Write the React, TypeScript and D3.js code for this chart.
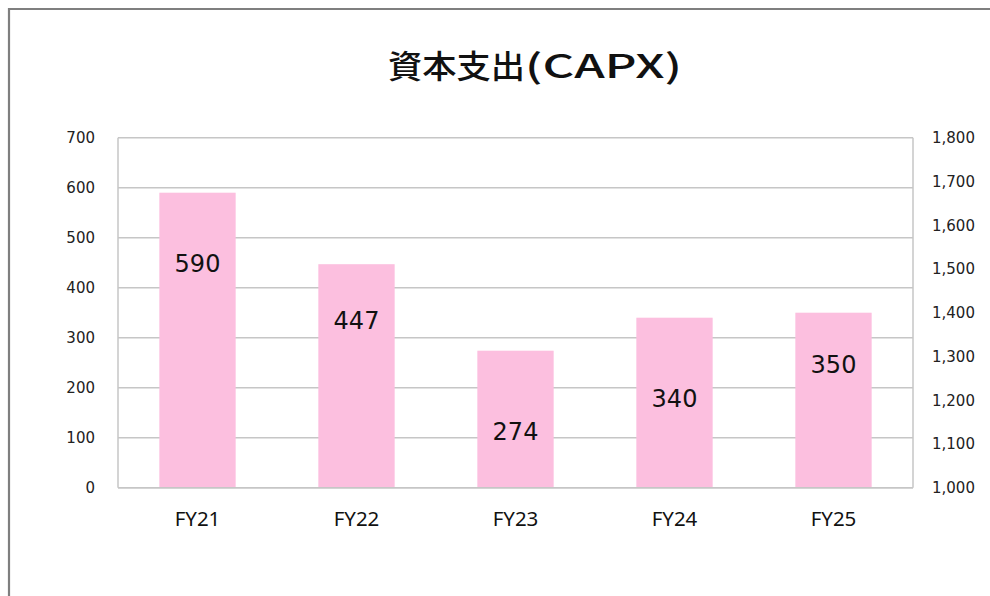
import React from "react";
import * as d3 from "d3";

const categories = ["FY21", "FY22", "FY23", "FY24", "FY25"];
const capex = [590, 447, 274, 340, 350];
const leftTicks = [0, 100, 200, 300, 400, 500, 600, 700];
const rightTicks = [1000, 1100, 1200, 1300, 1400, 1500, 1600, 1700, 1800];
// label baseline offset below bar top (px), as placed in the original
const labelOffsets = [79, 65, 89, 89, 60];

const W = 990;
const H = 596;
const plot = { left: 118, right: 913, top: 137.7, bottom: 487.7 };

export default function App() {
  const x = d3
    .scaleBand<string>()
    .domain(categories)
    .range([plot.left, plot.right])
    .paddingInner(0.52)
    .paddingOuter(0.26);
  const y = d3.scaleLinear().domain([0, 700]).range([plot.bottom, plot.top]);
  const yR = d3.scaleLinear().domain([1000, 1800]).range([plot.bottom, plot.top]);
  const fmt = d3.format(",");
  const grid = "#c6c6c6";

  return (
    <svg
      width={W}
      height={H}
      style={{ position: "absolute", left: 0, top: 0, background: "#fff" }}
    >
      <rect x={0} y={0} width={W} height={H} fill="#fff" />
      {/* outer frame */}
      <path d={`M9,${H + 5} L9,9 L${W + 5},9`} fill="none" stroke="#7f7f7f" strokeWidth={2.2} />

      {/* title */}
      <text
        x={388}
        y={78}
        fontFamily="'Noto Sans CJK JP', 'Noto Sans CJK SC', sans-serif"
        fontWeight={500}
        fontSize={32}
        fill="#111"
        textLength={137}
        lengthAdjust="spacingAndGlyphs"
      >
        資本支出
      </text>
      <text
        x={525}
        y={78}
        fontFamily="'Noto Sans CJK JP', 'Noto Sans', sans-serif"
        fontWeight={500}
        fontSize={33}
        fill="#111"
        textLength={157}
        lengthAdjust="spacingAndGlyphs"
      >
        (CAPX)
      </text>

      {/* gridlines */}
      {leftTicks.map((t) => (
        <line
          key={"g" + t}
          x1={plot.left}
          x2={plot.right}
          y1={y(t)}
          y2={y(t)}
          stroke={grid}
          strokeWidth={1.5}
        />
      ))}
      {/* plot border sides */}
      <line x1={plot.left} x2={plot.left} y1={plot.top} y2={plot.bottom} stroke={grid} strokeWidth={1.5} />
      <line x1={plot.right} x2={plot.right} y1={plot.top} y2={plot.bottom} stroke={grid} strokeWidth={1.5} />

      {/* bars */}
      {capex.map((v, i) => (
        <rect
          key={"b" + i}
          x={x(categories[i])}
          y={y(v)}
          width={x.bandwidth()}
          height={y(0) - y(v)}
          fill="#fcbfdf"
        />
      ))}
      <line x1={plot.left} x2={plot.right} y1={plot.bottom} y2={plot.bottom} stroke={grid} strokeWidth={1.5} />

      {/* value labels */}
      {capex.map((v, i) => (
        <text
          key={"v" + i}
          x={(x(categories[i]) as number) + x.bandwidth() / 2}
          y={y(v) + labelOffsets[i]}
          textAnchor="middle"
          fontFamily="'DejaVu Sans', Verdana, sans-serif"
          fontSize={24}
          fill="#111"
        >
          {v}
        </text>
      ))}

      {/* left axis labels */}
      {leftTicks.map((t) => (
        <text
          key={"l" + t}
          x={95}
          y={y(t)}
          dy="0.36em"
          textAnchor="end"
          fontFamily="'DejaVu Sans', Verdana, sans-serif"
          fontSize={15}
          fill="#222"
        >
          {t}
        </text>
      ))}
      {/* right axis labels */}
      {rightTicks.map((t) => (
        <text
          key={"r" + t}
          x={932}
          y={yR(t)}
          dy="0.36em"
          textAnchor="start"
          fontFamily="'DejaVu Sans', Verdana, sans-serif"
          fontSize={15}
          fill="#222"
        >
          {fmt(t)}
        </text>
      ))}

      {/* category labels */}
      {categories.map((c) => (
        <text
          key={"c" + c}
          x={(x(c) as number) + x.bandwidth() / 2}
          y={526}
          textAnchor="middle"
          fontFamily="'Noto Sans', sans-serif"
          fontSize={20.5}
          fill="#111"
        >
          {c}
        </text>
      ))}
    </svg>
  );
}
